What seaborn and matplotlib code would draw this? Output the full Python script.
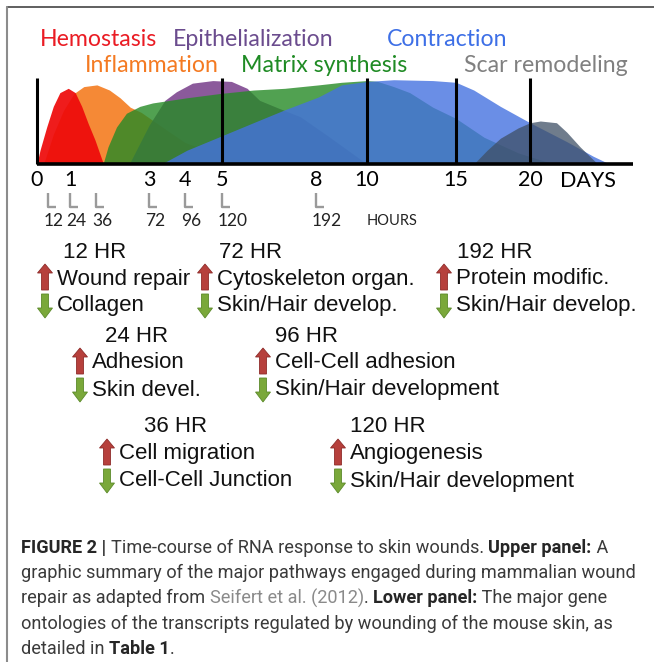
import matplotlib
matplotlib.use("Agg")
import matplotlib.pyplot as plt
import matplotlib.transforms as mtransforms
import numpy as np
import seaborn as sns
from matplotlib.lines import Line2D
from matplotlib.patches import FancyArrow
from matplotlib.path import Path

W, H = 654, 662

# time line: days -> position on the drawn axis (the figure uses a stretched scale)
scale_days = [0, 0.5, 1, 1.5, 3, 4, 5, 8, 10, 15, 20, 27]
scale_pos = [37, 48, 70, 96, 149, 185, 222, 316, 367, 456, 530, 633]

day_ticks = [0, 1, 3, 4, 5, 8, 10, 15, 20]
marker_days = [0, 5, 10, 15, 20]
hour_ticks = [12, 24, 36, 72, 96, 120, 192]

# phase curves (day, relative height)
hemo_days = [0, 0.136, 0.44, 0.62, 0.77, 0.96, 1.10, 1.225, 1.35, 1.48, 1.71]
hemo_h = [0, 0.16, 0.43, 0.67, 0.83, 0.88, 0.83, 0.67, 0.47, 0.28, 0]
infl_days = [0.3, 0.625, 0.85, 1.077, 1.265, 1.525, 1.88, 2.18, 2.47, 2.78, 3.3, 4.0, 5.0, 6.5]
infl_h = [0, 0.35, 0.62, 0.82, 0.9, 0.92, 0.86, 0.77, 0.66, 0.6, 0.45, 0.25, 0.1, 0]
epi_days = [2.44, 3.0, 3.44, 3.76, 4.2, 4.75, 5.3, 5.8, 6.2, 6.8, 7.5, 8.5, 10.0]
epi_h = [0, 0.45, 0.74, 0.84, 0.94, 0.97, 0.96, 0.88, 0.74, 0.65, 0.55, 0.32, 0]
matrix_days = [1.70, 1.84, 2.08, 2.36, 2.74, 3.1, 4.05, 4.95, 6.0, 7.0, 8.1, 9.0, 10.0,
               10.6, 11.5, 12.4, 13.7, 15.0, 16.9, 19.2, 21.6]
matrix_h = [0, 0.2, 0.43, 0.59, 0.67, 0.71, 0.77, 0.82, 0.86, 0.88, 0.92, 0.95, 0.97,
            0.96, 0.9, 0.83, 0.66, 0.53, 0.31, 0.13, 0]
contr_days = [3.35, 4.05, 4.95, 6.0, 7.0, 8.1, 9.0, 10.0, 11.5, 13.7, 15.0, 16.2, 18.0,
              20.0, 22.5, 24.3, 25.4]
contr_h = [0, 0.16, 0.32, 0.48, 0.63, 0.78, 0.92, 0.96, 0.98, 0.97, 0.95, 0.86, 0.67,
           0.48, 0.26, 0.09, 0]
scar_days = [16.2, 17.1, 18.0, 19.2, 20.0, 20.7, 21.8, 22.5, 23.4, 24.3, 24.6]
scar_h = [0, 0.16, 0.3, 0.42, 0.48, 0.5, 0.48, 0.37, 0.2, 0.05, 0]

phase_names = ["Hemostasis", "Inflammation", "Epithelialization",
               "Matrix synthesis", "Contraction", "Scar remodeling"]
phase_text_colors = ["#ea1c24", "#f47a22", "#6b4c8e", "#1f8b24", "#3d6fe6", "#808080"]
phase_label_xy = [(40, 39), (85, 66), (173, 39), (241, 66), (387, 39), (464, 66)]

# lower panel: gene ontology per time point
time_points = ["12 HR", "72 HR", "192 HR", "24 HR", "96 HR", "36 HR", "120 HR"]
up_terms = ["Wound repair", "Cytoskeleton organ.", "Protein modific.", "Adhesion",
            "Cell-Cell adhesion", "Cell migration", "Angiogenesis"]
down_terms = ["Collagen", "Skin/Hair develop.", "Skin/Hair develop.", "Skin devel.",
              "Skin/Hair development", "Cell-Cell Junction", "Skin/Hair development"]
header_xy = [(63, 252), (219, 252), (457, 252), (105, 337), (275, 337), (144, 427), (350, 427)]
term_x = [57, 217, 456, 92, 275, 119, 350]
term_y = [279, 279, 279, 363, 363, 454, 454]

caption_lines = [
    [("FIGURE 2 | ", "b"), ("Time-course of RNA response to skin wounds. ", "r"),
     ("Upper panel:", "b"), (" A", "r")],
    [("graphic summary of the major pathways engaged during mammalian wound", "r")],
    [("repair as adapted from ", "r"), ("Seifert et al. (2012)", "g"), (". ", "r"),
     ("Lower panel:", "b"), (" The major gene", "r")],
    [("ontologies of the transcripts regulated by wounding of the mouse skin, as", "r")],
    [("detailed in ", "r"), ("Table 1", "b"), (".", "r")],
]

sns.set_theme(style="white")
plt.rcParams["font.family"] = ["Lato", "DejaVu Sans"]

fig = plt.figure(figsize=(W / 100, H / 100), dpi=100)
fig.patch.set_facecolor("white")

# overlay in pixel coordinates for the free text
ov = fig.add_axes([0, 0, 1, 1])
ov.set_xlim(0, W)
ov.set_ylim(H, 0)
ov.axis("off")
renderer = fig.canvas.get_renderer()


def text_width(s, **kw):
    t1 = ov.text(0, 0, "|" + s + "|", **kw)
    t2 = ov.text(0, 0, "||", **kw)
    w = t1.get_window_extent(renderer).width - t2.get_window_extent(renderer).width
    t1.remove()
    t2.remove()
    return w


def fit_size(s, target, **kw):
    return 12 * target / text_width(s, fontsize=12, **kw)


# frame
fig.add_artist(Line2D([7 / W, 1], [1 - 7 / H, 1 - 7 / H], color="#444444", lw=1.2,
                      transform=fig.transFigure))
fig.add_artist(Line2D([7 / W, 7 / W], [0, 1 - 7 / H], color="#8c8c8c", lw=1.5,
                      transform=fig.transFigure))

# ---------------- upper panel ----------------
ax = fig.add_axes([37 / W, 1 - 164 / H, (633 - 37) / W, 86 / H])
ax.set_facecolor("none")
ax.set_xscale("function", functions=(lambda d: np.interp(d, scale_days, scale_pos),
                                     lambda p: np.interp(p, scale_pos, scale_days)))
ax.set_xlim(0, 27)
ax.set_ylim(0, 1)

ax.fill_between(infl_days, 0, infl_h, color="#f47c20", alpha=0.9, lw=0)
ax.fill_between(hemo_days, 0, hemo_h, color="#ee0a0a", alpha=0.93, lw=0)
ax.fill_between(epi_days, 0, epi_h, color="#773d8a", alpha=0.85, lw=0)
ax.fill_between(matrix_days, 0, matrix_h, color="#268a26", alpha=0.8, lw=0)
ax.fill_between(contr_days, 0, contr_h, color="#4572e0", alpha=0.8, lw=0)
ax.fill_between(scar_days, 0, scar_h, color="#3f5066", alpha=0.75, lw=0)

ax.vlines(marker_days, 0, 1, color="black", lw=2.2, clip_on=False)
ax.hlines(0, 0, 27, color="black", lw=2.6, clip_on=False)

for s in ax.spines.values():
    s.set_visible(False)
ax.set_yticks([])
day_size = 15.5
ax.set_xticks(day_ticks)
ax.set_xticklabels([str(d) for d in day_ticks], fontsize=day_size, color="black")
ax.tick_params(axis="x", length=0, pad=4.5)
ax.minorticks_off()
ov.text(560, 181, "DAYS", fontsize=day_size, va="center", ha="left", color="black")

# hour marks: small L shapes under the day axis
l_mark = Path([(0, 0.7), (0, -0.7), (0.8, -0.7)], [Path.MOVETO, Path.LINETO, Path.LINETO])
hour_days = [h / 24 for h in hour_ticks]
ax.plot(hour_days, [-0.42] * len(hour_days), ls="none", marker=l_mark, ms=11.5,
        mec="#9a9a9a", mew=1.7, fillstyle="none", clip_on=False)
shift = mtransforms.offset_copy(ax.transData, fig=fig, x=-4, y=0, units="dots")
for d, h in zip(hour_days, hour_ticks):
    ax.text(d, -0.663, str(h), transform=shift, fontsize=12.5, ha="left", va="center",
            color="#222222")
ov.text(367, 221, "HOURS", fontsize=10.5, va="center", ha="left", color="#222222")

phase_size = fit_size("Epithelialization", 160)
for name, c, (x, y) in zip(phase_names, phase_text_colors, phase_label_xy):
    ov.text(x, y, name, fontsize=phase_size, color=c, ha="left", va="center")

# ---------------- lower panel ----------------
lower_font = "Liberation Sans"
lower_size = fit_size("Skin/Hair development", 224, family=lower_font)
for head, (hx, hy), up, down, tx, ty in zip(time_points, header_xy, up_terms, down_terms,
                                             term_x, term_y):
    ov.text(hx, hy, head, family=lower_font, fontsize=lower_size, ha="left", va="center",
            color="#111111")
    ov.text(tx, ty, up, family=lower_font, fontsize=lower_size, ha="left", va="center",
            color="#111111")
    ov.text(tx, ty + 27, down, family=lower_font, fontsize=lower_size, ha="left",
            va="center", color="#111111")
    cx = tx - 12
    ov.add_patch(FancyArrow(cx, ty + 11, 0, -26, width=7, head_width=15, head_length=9,
                            length_includes_head=True, fc="#b6403c", ec="#8e2c2a", lw=0.6))
    ov.add_patch(FancyArrow(cx, ty + 27 - 12, 0, 24, width=7, head_width=15, head_length=10,
                            length_includes_head=True, fc="#7aa83a", ec="#5b8a2a", lw=0.6))

# ---------------- caption ----------------
cap_font = "Roboto"
cap_size = fit_size(caption_lines[1][0][0], 613, family=cap_font, fontweight="normal")
styles = {"r": dict(fontweight="normal", color="#3a3a3a"),
          "b": dict(fontweight="bold", color="#262626"),
          "g": dict(fontweight="normal", color="#8a8a8a")}
for i, line in enumerate(caption_lines):
    x = 21
    y = 548 + i * 25.2
    for s, st in line:
        kw = dict(family=cap_font, fontsize=cap_size, **styles[st])
        ov.text(x, y, s, ha="left", va="center", **kw)
        x += text_width(s, **kw)

fig.savefig("out.png", dpi=100)
